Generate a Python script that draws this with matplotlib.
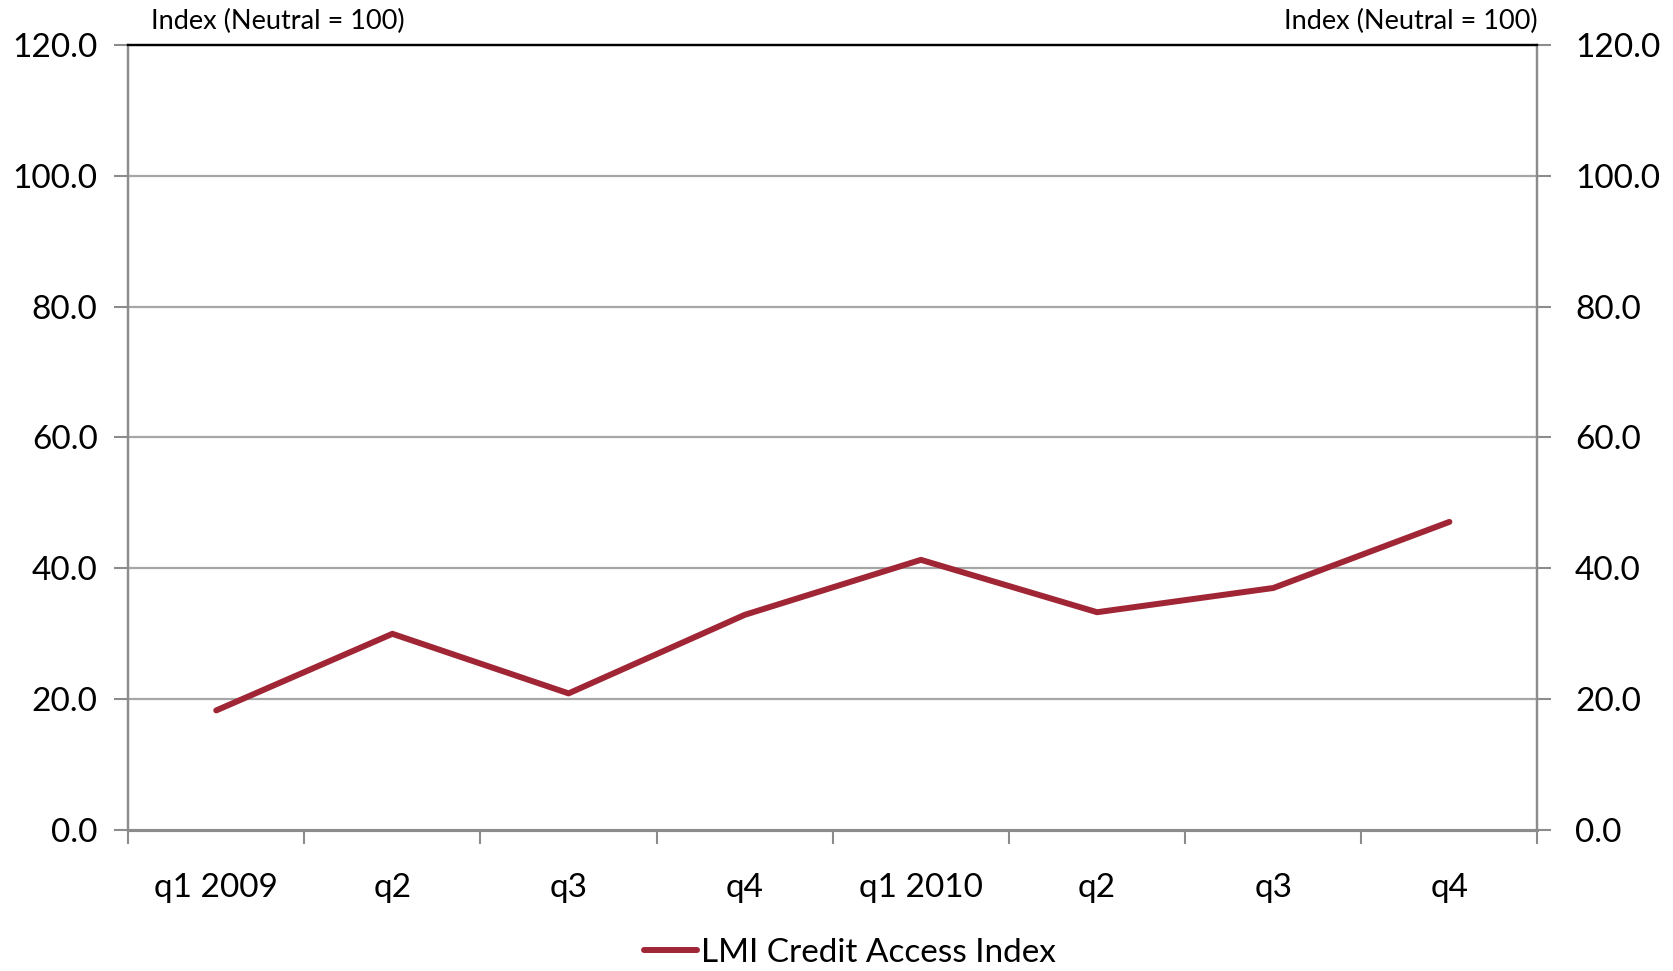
import numpy as np
import matplotlib.pyplot as plt

plt.rcParams['font.family'] = ['Lato', 'DejaVu Sans']

# quarterly LMI credit access index
quarters = ["q1 2009", "q2", "q3", "q4", "q1 2010", "q2", "q3", "q4"]
credit_access = [18.3, 30.0, 20.9, 32.9, 41.3, 33.3, 37.0, 47.1]
y_ticks = [0, 20, 40, 60, 80, 100, 120]

line_color = "#A02535"
grid_color = "#A6A6A6"
axis_color = "#8C8C8C"

fig = plt.figure(figsize=(16.73, 9.71), dpi=100)
ax = fig.add_axes([0.0766, 0.145, 0.8424, 0.809])

x = np.arange(len(quarters))
ax.plot(x, credit_access, color=line_color, lw=4.3, solid_capstyle="round",
        label="LMI Credit Access Index", zorder=3)

ax.set_xlim(-0.5, len(quarters) - 0.5)
ax.set_ylim(0, 120)

# horizontal gridlines
for v in y_ticks[1:-1]:
    ax.axhline(v, color=grid_color, lw=1.6, zorder=1)

ax.set_yticks(y_ticks)
ax.set_yticklabels([f"{v:.1f}" for v in y_ticks])
ax.tick_params(axis="y", direction="out", length=10, width=1.5, color=axis_color,
               labelsize=24, pad=12)

# category labels centered, tick marks on boundaries
ax.set_xticks(x)
ax.set_xticklabels(quarters)
ax.set_xticks(np.arange(-0.5, len(quarters)), minor=True)
ax.tick_params(axis="x", which="major", length=0, labelsize=24, pad=31)
ax.tick_params(axis="x", which="minor", direction="out", length=10, width=1.5,
               color=axis_color)

# right axis mirror
ax2 = ax.twinx()
ax2.set_ylim(0, 120)
ax2.set_yticks(y_ticks)
ax2.set_yticklabels([f"{v:.1f}" for v in y_ticks])
ax2.tick_params(axis="y", direction="out", length=10, width=1.5, color=axis_color,
                labelsize=24, pad=17)

for a in (ax, ax2):
    a.spines["left"].set_color(axis_color)
    a.spines["right"].set_color(axis_color)
    a.spines["bottom"].set_color(axis_color)
    a.spines["left"].set_linewidth(1.6)
    a.spines["right"].set_linewidth(1.6)
    a.spines["bottom"].set_linewidth(2.2)
    a.spines["top"].set_color("black")
    a.spines["top"].set_linewidth(1.6)

ax.text(0.016, 1.014, "Index (Neutral = 100)", transform=ax.transAxes,
        fontsize=19.5, ha="left", va="bottom")
ax.text(1.0, 1.014, "Index (Neutral = 100)", transform=ax.transAxes,
        fontsize=19.5, ha="right", va="bottom")

fig.legend(loc="center", bbox_to_anchor=(0.508, 0.019), frameon=False,
           fontsize=24, handlelength=1.6, handletextpad=0.1)

fig.savefig("out.png", dpi=100)
